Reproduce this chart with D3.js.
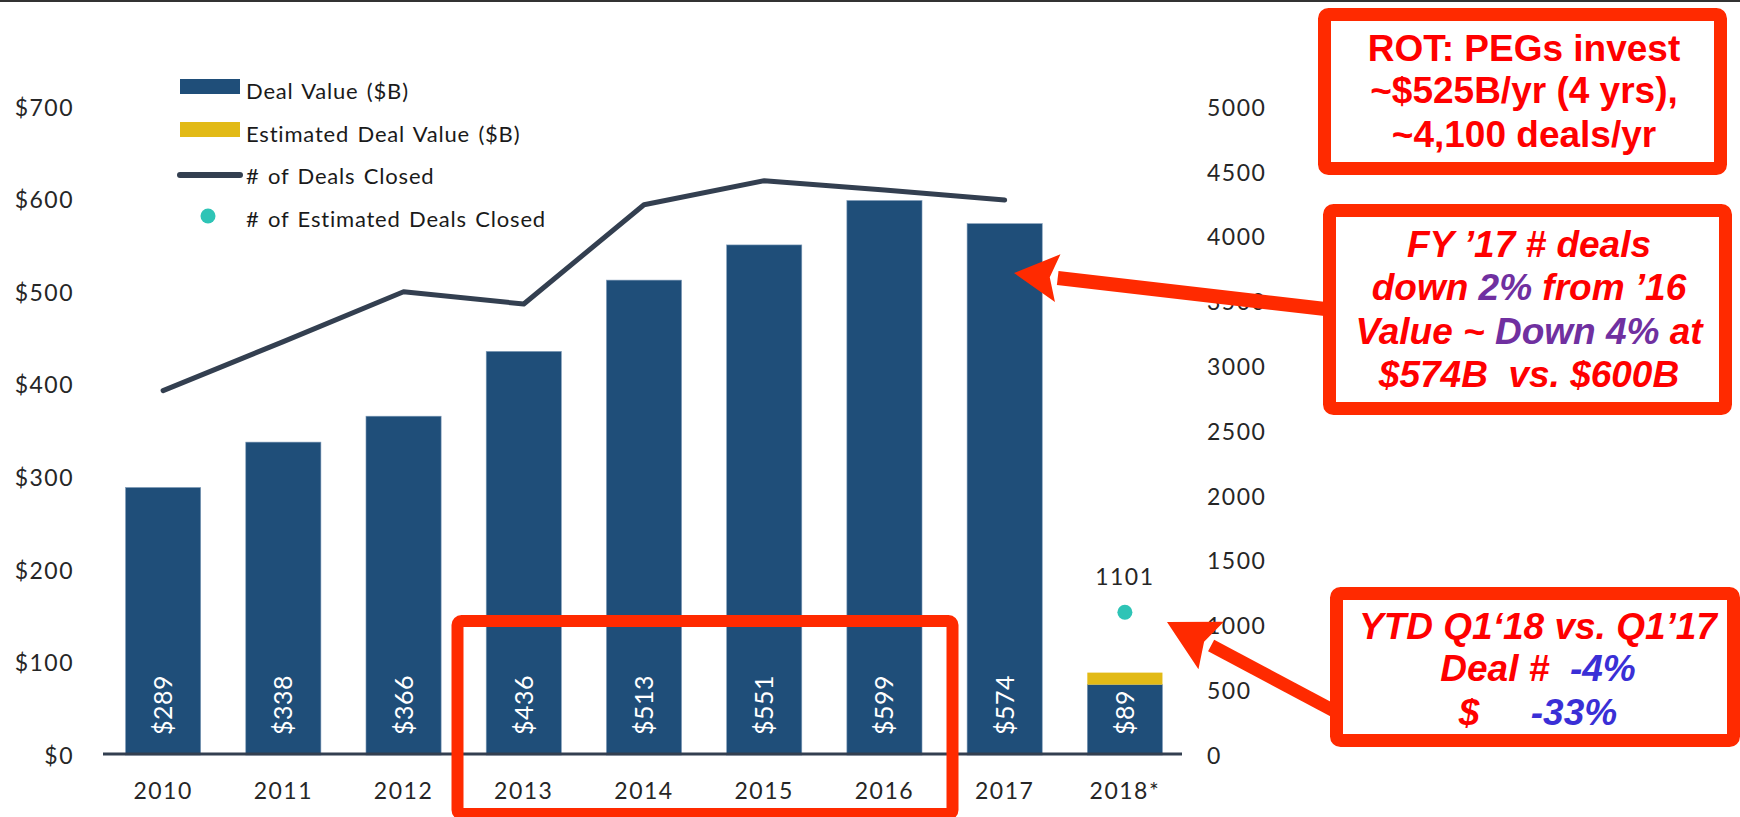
<!DOCTYPE html>
<html>
<head>
<meta charset="utf-8">
<script src="https://cdn.jsdelivr.net/npm/d3@7"></script>
<style>
  body { margin: 0; background: #fff; }
  svg { display: block; }
  .tick-label { font-family: Lato, "Open Sans", sans-serif; font-size: 23px; fill: #262626; letter-spacing: 1.5px; }
  .legend { font-family: Lato, "Open Sans", sans-serif; font-size: 22px; fill: #1a1a1a; letter-spacing: 0.8px; word-spacing: 2px; }
  .note { font-family: "Liberation Sans", Arial, sans-serif; font-weight: bold; fill: #ff0000; white-space: pre; }
</style>
</head>
<body>
<div id="chart"></div>
<script>
// values
const years = ["2010", "2011", "2012", "2013", "2014", "2015", "2016", "2017", "2018*"];
const dealValue = [289, 338, 366, 436, 513, 551, 599, 574, 76];
const estDealValue = [0, 0, 0, 0, 0, 0, 0, 0, 13];
const valueLabels = ["$289", "$338", "$366", "$436", "$513", "$551", "$599", "$574", "$89"];
const dealYears = ["2010", "2011", "2012", "2013", "2014", "2015", "2016", "2017"];
const dealsClosed = [2812, 3190, 3574, 3480, 4246, 4431, 4360, 4282];
const estDealYears = ["2018*"];
const estDealsClosed = [1101];
const leftTicks = [0, 100, 200, 300, 400, 500, 600, 700];
const rightTicks = [0, 500, 1000, 1500, 2000, 2500, 3000, 3500, 4000, 4500, 5000];

const width = 1740;
const height = 817;
const barColor = "#1f4e79";
const estColor = "#e2ba16";
const lineColor = "#333f50";
const dotColor = "#2ec4b6";
const red = "#ff2a00";

const svg = d3.select("#chart").append("svg")
  .attr("width", width)
  .attr("height", height);

// thin rule across the top
svg.append("rect")
  .attr("x", 0).attr("y", 0)
  .attr("width", width).attr("height", 2)
  .attr("fill", "#333");

const x = d3.scaleBand()
  .domain(years)
  .range([103, 1185])
  .paddingInner(0.375)
  .paddingOuter(0.1875);

const yLeft = d3.scaleLinear().domain([0, 700]).range([755, 107]);
const yRight = d3.scaleLinear().domain([0, 5000]).range([755, 107]);

// left axis
const leftAxis = svg.append("g")
  .attr("transform", "translate(74,0)")
  .call(d3.axisLeft(yLeft).tickValues(leftTicks).tickSize(0).tickPadding(0).tickFormat((d) => "$" + d));
leftAxis.select(".domain").remove();
leftAxis.selectAll("text").attr("class", "tick-label").attr("dy", "0.36em");

// right axis
const rightAxis = svg.append("g")
  .attr("transform", "translate(1207,0)")
  .call(d3.axisRight(yRight).tickValues(rightTicks).tickSize(0).tickPadding(0).tickFormat(d3.format("d")));
rightAxis.select(".domain").remove();
rightAxis.selectAll("text").attr("class", "tick-label").attr("dy", "0.36em");

// bottom axis labels
const bottomAxis = svg.append("g")
  .attr("transform", "translate(0,755)")
  .call(d3.axisBottom(x).tickSize(0).tickPadding(30));
bottomAxis.select(".domain").remove();
bottomAxis.selectAll("text").attr("class", "tick-label").attr("dy", "0.6em");

// bars
svg.append("g")
  .selectAll("rect")
  .data(years)
  .join("rect")
  .attr("x", (d) => x(d))
  .attr("width", x.bandwidth())
  .attr("y", (d, i) => yLeft(dealValue[i]))
  .attr("height", (d, i) => yLeft(0) - yLeft(dealValue[i]))
  .attr("fill", barColor)
  .attr("stroke", "#7f9bb8")
  .attr("stroke-width", 0.6);

svg.append("g")
  .selectAll("rect")
  .data(years.filter((d, i) => estDealValue[i] > 0))
  .join("rect")
  .attr("x", (d) => x(d))
  .attr("width", x.bandwidth())
  .attr("y", (d) => {
    const i = years.indexOf(d);
    return yLeft(dealValue[i] + estDealValue[i]);
  })
  .attr("height", (d) => {
    const i = years.indexOf(d);
    return yLeft(dealValue[i]) - yLeft(dealValue[i] + estDealValue[i]);
  })
  .attr("fill", estColor);

// value labels, rotated inside the bars
svg.append("g")
  .selectAll("text")
  .data(years)
  .join("text")
  .attr("transform", (d) => `translate(${x(d) + x.bandwidth() / 2 + 9},735) rotate(-90)`)
  .attr("font-family", "Lato, 'Open Sans', sans-serif")
  .attr("font-size", 25)
  .attr("letter-spacing", 0.5)
  .attr("fill", "#fff")
  .text((d, i) => valueLabels[i]);

// baseline
svg.append("line")
  .attr("x1", 103).attr("x2", 1182)
  .attr("y1", 754).attr("y2", 754)
  .attr("stroke", lineColor)
  .attr("stroke-width", 3);

// deals closed line
const line = d3.line()
  .x((d, i) => x(dealYears[i]) + x.bandwidth() / 2)
  .y((d) => yRight(d));

svg.append("path")
  .datum(dealsClosed)
  .attr("d", line)
  .attr("fill", "none")
  .attr("stroke", lineColor)
  .attr("stroke-width", 5)
  .attr("stroke-linecap", "round")
  .attr("stroke-linejoin", "round");

// estimated deals
svg.append("g")
  .selectAll("circle")
  .data(estDealsClosed)
  .join("circle")
  .attr("cx", (d, i) => x(estDealYears[i]) + x.bandwidth() / 2)
  .attr("cy", (d) => yRight(d))
  .attr("r", 7.5)
  .attr("fill", dotColor);

svg.append("g")
  .selectAll("text")
  .data(estDealsClosed)
  .join("text")
  .attr("class", "tick-label")
  .attr("x", (d, i) => x(estDealYears[i]) + x.bandwidth() / 2)
  .attr("y", (d) => yRight(d) - 27)
  .attr("text-anchor", "middle")
  .text((d) => d);

// legend
const legend = svg.append("g");
legend.append("rect").attr("x", 180).attr("y", 79).attr("width", 60).attr("height", 15).attr("fill", barColor);
legend.append("text").attr("class", "legend").attr("x", 246).attr("y", 99).text("Deal Value ($B)");
legend.append("rect").attr("x", 180).attr("y", 122).attr("width", 60).attr("height", 15).attr("fill", estColor);
legend.append("text").attr("class", "legend").attr("x", 246).attr("y", 142).text("Estimated Deal Value ($B)");
legend.append("line").attr("x1", 180).attr("x2", 240).attr("y1", 175).attr("y2", 175)
  .attr("stroke", lineColor).attr("stroke-width", 6).attr("stroke-linecap", "round");
legend.append("text").attr("class", "legend").attr("x", 246).attr("y", 184).text("# of Deals Closed");
legend.append("circle").attr("cx", 208).attr("cy", 216).attr("r", 7.5).attr("fill", dotColor);
legend.append("text").attr("class", "legend").attr("x", 246).attr("y", 227).text("# of Estimated Deals Closed");

// annotations
const note = svg.append("g");

const box = (x0, y0, w, h) => note.append("rect")
  .attr("x", x0).attr("y", y0)
  .attr("width", w).attr("height", h)
  .attr("rx", 4)
  .attr("fill", "#fff")
  .attr("stroke", red)
  .attr("stroke-width", 13);

const arrow = (x1, y1, x2, y2, headLen, headHalf, thick) => {
  const ang = Math.atan2(y2 - y1, x2 - x1);
  const bx = x2 - headLen * Math.cos(ang);
  const by = y2 - headLen * Math.sin(ang);
  const nx = -Math.sin(ang);
  const ny = Math.cos(ang);
  note.append("line")
    .attr("x1", x1).attr("y1", y1).attr("x2", bx).attr("y2", by)
    .attr("stroke", red).attr("stroke-width", thick);
  note.append("path")
    .attr("d", `M${x2},${y2}L${bx + nx * headHalf},${by + ny * headHalf}L${bx + 8 * Math.cos(ang)},${by + 8 * Math.sin(ang)}L${bx - nx * headHalf},${by - ny * headHalf}Z`)
    .attr("fill", red);
};

const textLines = (cx, ys, size, italic, lines) => {
  lines.forEach((parts, i) => {
    const t = note.append("text")
      .attr("class", "note")
      .attr("x", cx)
      .attr("y", ys[i])
      .attr("text-anchor", "middle")
      .attr("font-size", size)
      .attr("font-style", italic ? "italic" : "normal");
    parts.forEach(([s, c]) => t.append("tspan").attr("fill", c).text(s));
  });
};

// bottom box around 2013-2016
note.append("rect")
  .attr("x", 457.5).attr("y", 621)
  .attr("width", 495).attr("height", 193)
  .attr("rx", 4)
  .attr("fill", "none")
  .attr("stroke", red)
  .attr("stroke-width", 12);

arrow(1334, 310, 1014, 273, 44, 24, 14);
arrow(1338, 713, 1167, 622, 50, 27, 13);

box(1324.5, 14.5, 396, 154);
textLines(1524, [61, 103, 147], 37, false, [
  [["ROT: PEGs invest", "#ff0000"]],
  [["~$525B/yr (4 yrs),", "#ff0000"]],
  [["~4,100 deals/yr", "#ff0000"]]
]);

box(1329.5, 210.5, 396, 198);
textLines(1529, [257, 300, 344, 387], 37, true, [
  [["FY ’17 # deals", "#ff0000"]],
  [["down ", "#ff0000"], ["2%", "#7030a0"], [" from ’16", "#ff0000"]],
  [["Value ~ ", "#ff0000"], ["Down 4%", "#7030a0"], [" at", "#ff0000"]],
  [["$574B  vs. $600B", "#ff0000"]]
]);

box(1336.5, 593.5, 397, 147);
textLines(1538, [639, 681, 725], 37, true, [
  [["YTD Q1‘18 vs. Q1’17", "#ff0000"]],
  [["Deal #  ", "#ff0000"], ["-4%", "#3a2fd6"]],
  [["$     ", "#ff0000"], ["-33%", "#3a2fd6"]]
]);
</script>
</body>
</html>
